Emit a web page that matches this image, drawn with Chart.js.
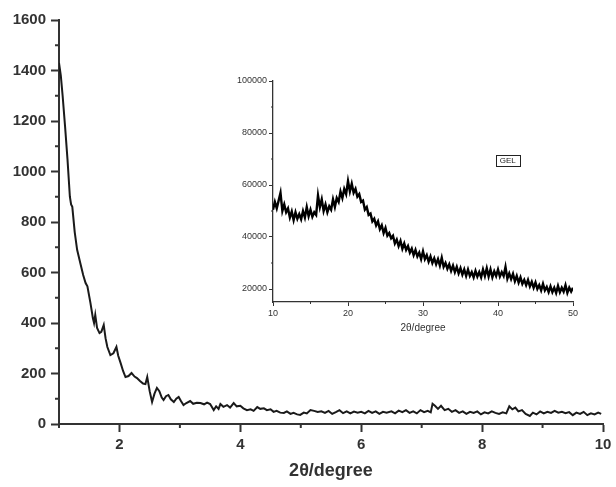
<!DOCTYPE html>
<html>
<head>
<meta charset="utf-8">
<script src="https://cdn.jsdelivr.net/npm/chart.js@4"></script>
<style>
  body { margin: 0; background: #fff; }
  #wrap { position: relative; width: 616px; height: 487px; }
  #mainChart { position: absolute; left: 0; top: 0; }
  #insetChart { position: absolute; left: 228px; top: 72px; }
</style>
</head>
<body>
<div id="wrap">
  <canvas id="mainChart" width="616" height="487"></canvas>
  <canvas id="insetChart" width="360" height="266"></canvas>
</div>
<script>
// main pattern, 2theta 1-10
const mainAngle = [1.0, 1.03, 1.06, 1.1, 1.14, 1.18, 1.2, 1.22, 1.26, 1.3, 1.35, 1.4, 1.44, 1.47, 1.52, 1.56, 1.58, 1.6, 1.63, 1.67,
  1.7, 1.74, 1.77, 1.8, 1.85, 1.9, 1.95, 1.98, 2.02, 2.06, 2.1, 2.15, 2.2, 2.25, 2.29, 2.34, 2.39, 2.43, 2.46, 2.5,
  2.54, 2.58, 2.62, 2.66, 2.7, 2.73, 2.77, 2.81, 2.85, 2.9, 2.94, 2.98, 3.02, 3.06, 3.1, 3.17, 3.22, 3.28, 3.34, 3.4,
  3.45, 3.5, 3.56, 3.6, 3.64, 3.67, 3.72, 3.78, 3.83, 3.89, 3.94, 4.0, 4.05, 4.11, 4.17, 4.22, 4.28, 4.33, 4.39, 4.44,
  4.5, 4.55, 4.6, 4.66, 4.72, 4.77, 4.83, 4.88, 4.94, 4.99, 5.05, 5.1, 5.16, 5.22, 5.28, 5.34, 5.4, 5.46, 5.52, 5.58,
  5.64, 5.7, 5.76, 5.82, 5.88, 5.94, 6.0, 6.06, 6.12, 6.18, 6.24, 6.3, 6.36, 6.42, 6.5, 6.56, 6.62, 6.68, 6.74, 6.8,
  6.86, 6.92, 6.98, 7.04, 7.1, 7.15, 7.18, 7.22, 7.27, 7.32, 7.38, 7.44, 7.5, 7.56, 7.62, 7.68, 7.74, 7.8, 7.86, 7.92,
  7.98, 8.04, 8.1, 8.16, 8.22, 8.28, 8.34, 8.4, 8.45, 8.5, 8.55, 8.6, 8.66, 8.72, 8.79, 8.84, 8.9, 8.96, 9.02, 9.08,
  9.14, 9.2, 9.26, 9.32, 9.38, 9.44, 9.5, 9.56, 9.62, 9.68, 9.74, 9.8, 9.86, 9.92, 9.97];
const mainCounts = [1430, 1380, 1300, 1180, 1050, 900, 870, 860, 760, 690, 640, 590, 558, 545, 480, 420, 400, 432, 380, 360,
  365, 392, 340, 305, 273, 280, 305, 270, 241, 210, 186, 190, 202, 188, 182, 170, 160, 158, 186, 130,
  87, 120, 143, 130, 105, 95, 110, 115, 98, 87, 100, 107, 90, 75, 82, 91, 80, 84, 83, 78,
  85, 79, 55, 70, 60, 79, 68, 75, 65, 83, 70, 72, 62, 55, 58, 52, 67, 60, 62, 55,
  58, 48, 52, 45, 44, 50, 40, 44, 38, 36, 45, 42, 55, 52, 48, 50, 44, 52, 40, 47,
  55, 43, 50, 42, 49, 45, 48, 42, 52, 44, 50, 40, 48, 45, 50, 42, 53, 47, 55, 44,
  50, 42, 55, 47, 52, 46, 80, 72, 60, 72, 55, 60, 48, 55, 44, 50, 40, 48, 44, 50,
  38, 46, 42, 50, 44, 40, 46, 42, 70, 58, 65, 50, 55, 40, 32, 45, 38, 50, 42, 48,
  44, 52, 45, 48, 43, 47, 35, 45, 40, 48, 35, 42, 38, 45, 40];

// inset (GEL), 2theta 10-50 in 0.25 steps
const insetStart = 10;
const insetStep = 0.25;
const insetCounts = [
  50500, 53500, 51000, 54000, 57000, 50000, 52500, 49500, 51000, 47500, 49800, 46500,
  49500, 47000, 48800, 46800, 50000, 47500, 51500, 48000, 50500, 47800, 49500, 48500,
  56000, 51500, 54500, 50000, 52500, 49500, 51800, 50500, 54500, 51500, 55000, 53500,
  57500, 55000, 58500, 56500, 61500, 57500, 60500, 57000, 58500, 55500, 56500, 53500,
  54000, 50500, 51500, 48500, 49000, 46000, 47000, 44500, 46000, 43000, 44500, 41500,
  43500, 40500, 41500, 39500, 40500, 37500, 39000, 36500, 38500, 35500, 37500, 35000,
  36500, 34000, 35500, 33000, 35000, 32500, 34000, 31500, 34500, 31500, 33000, 30500,
  32500, 30000, 31800, 29500, 31500, 29000, 32000, 28500, 30000, 27800, 29500, 27000,
  29000, 26500, 28500, 26000, 28000, 25500, 27500, 25000, 27500, 25000, 26500, 24500,
  27000, 24800, 26500, 24500, 27500, 25000, 28000, 24800, 27500, 24500, 26800, 25000,
  27500, 24800, 26500, 25000, 28500, 24000, 26000, 23800, 25800, 23000, 25000, 22500,
  24500, 22000, 23500, 21500, 23500, 21000, 22800, 20500, 22500, 20000, 21500, 19500,
  22000, 19500, 20800, 18800, 21000, 18800, 20500, 18500, 21200, 18800, 20500, 19000,
  21500, 18500, 20500, 19000, 20500];
const insetLabel = 'GEL';
const xTitle = '2θ/degree';

const textColor = '#333';
const axisColor = '#333';

// shorter ticks for the unlabelled (minor) positions
const minorTicks = {
  id: 'minorTicks',
  afterDraw(chart) {
    const ctx = chart.ctx;
    ctx.save();
    ctx.strokeStyle = axisColor;
    Object.values(chart.scales).forEach(s => {
      const m = s.options.minor;
      if (!m) return;
      ctx.lineWidth = m.width;
      s.ticks.forEach(t => {
        if (t.value % m.major === 0) return;
        const p = s.getPixelForValue(t.value);
        ctx.beginPath();
        if (s.isHorizontal()) {
          ctx.moveTo(p, s.top);
          ctx.lineTo(p, s.top + m.len);
        } else {
          ctx.moveTo(s.right, p);
          ctx.lineTo(s.right - m.len, p);
        }
        ctx.stroke();
      });
    });
    ctx.restore();
  }
};

const legendBox = {
  id: 'legendBox',
  afterDraw(chart) {
    const o = chart.options.plugins.legendBox;
    if (!o) return;
    const ctx = chart.ctx;
    const cx = chart.scales.x.getPixelForValue(o.x);
    const cy = chart.scales.y.getPixelForValue(o.y);
    ctx.save();
    ctx.font = '8px "Liberation Sans", Arial, sans-serif';
    const w = ctx.measureText(o.text).width + 8;
    ctx.strokeStyle = '#222';
    ctx.lineWidth = 1;
    ctx.strokeRect(Math.round(cx - w / 2) + 0.5, Math.round(cy - 6) + 0.5, Math.round(w), 11);
    ctx.fillStyle = '#222';
    ctx.textAlign = 'center';
    ctx.textBaseline = 'middle';
    ctx.fillText(o.text, cx, cy);
    ctx.restore();
  }
};

function tickColorFor(major) {
  return c => (c.tick && c.tick.value % major === 0) ? axisColor : 'rgba(0,0,0,0)';
}

const mainChart = new Chart(document.getElementById('mainChart'), {
  type: 'line',
  data: {
    datasets: [{
      data: mainAngle.map((a, i) => ({ x: a, y: mainCounts[i] })),
      borderColor: '#1a1a1a',
      borderWidth: 2,
      pointRadius: 0,
      tension: 0
    }]
  },
  options: {
    responsive: false,
    devicePixelRatio: 1,
    animation: false,
    layout: { padding: { left: 0, top: 20, right: 13, bottom: 0 } },
    plugins: { legend: { display: false }, tooltip: { enabled: false } },
    scales: {
      x: {
        type: 'linear',
        min: 1, max: 10,
        afterFit: s => { s.height = 63; },
        minor: { major: 2, len: 4, width: 2 },
        border: { color: axisColor, width: 2 },
        grid: { drawOnChartArea: false, tickLength: 8, tickWidth: 2, tickColor: tickColorFor(2) },
        ticks: {
          stepSize: 1, padding: 4, maxRotation: 0, autoSkip: false,
          color: textColor,
          font: { family: '"Liberation Sans", Arial, sans-serif', size: 15, weight: 'bold' },
          callback: v => v % 2 === 0 ? v : ''
        },
        title: {
          display: true, text: xTitle, color: textColor,
          padding: { top: 2, bottom: 5 },
          font: { family: '"Liberation Sans", Arial, sans-serif', size: 18, weight: 'bold' }
        }
      },
      y: {
        min: 0, max: 1600,
        afterFit: s => { s.width = 59; },
        minor: { major: 200, len: 4, width: 2 },
        border: { color: axisColor, width: 2 },
        grid: { drawOnChartArea: false, tickLength: 8, tickWidth: 2, tickColor: tickColorFor(200) },
        ticks: {
          stepSize: 100, padding: 5, autoSkip: false,
          color: textColor,
          font: { family: '"Liberation Sans", Arial, sans-serif', size: 15, weight: 'bold' },
          callback: v => v % 200 === 0 ? v : ''
        }
      }
    }
  },
  plugins: [minorTicks]
});

const insetChart = new Chart(document.getElementById('insetChart'), {
  type: 'line',
  data: {
    datasets: [{
      data: insetCounts.map((c, i) => ({ x: insetStart + i * insetStep, y: c })),
      borderColor: '#000',
      borderWidth: 2.4,
      pointRadius: 0,
      tension: 0
    }]
  },
  options: {
    responsive: false,
    devicePixelRatio: 1,
    animation: false,
    layout: { padding: { left: 0, top: 9, right: 15, bottom: 0 } },
    plugins: {
      legend: { display: false },
      tooltip: { enabled: false },
      legendBox: { text: insetLabel, x: 41.3, y: 69400 }
    },
    scales: {
      x: {
        type: 'linear',
        min: 10, max: 50,
        afterFit: s => { s.height = 36; },
        minor: { major: 10, len: 2, width: 1 },
        border: { color: axisColor, width: 1.3 },
        grid: { drawOnChartArea: false, tickLength: 4, tickWidth: 1, tickColor: tickColorFor(10) },
        ticks: {
          stepSize: 5, padding: 2, maxRotation: 0, autoSkip: false,
          color: textColor,
          font: { family: '"Liberation Sans", Arial, sans-serif', size: 9 },
          callback: v => v % 10 === 0 ? v : ''
        },
        title: {
          display: true, text: xTitle, color: textColor,
          padding: { top: 1, bottom: 4 },
          font: { family: '"Liberation Sans", Arial, sans-serif', size: 10 }
        }
      },
      y: {
        min: 15000, max: 100000,
        afterFit: s => { s.width = 45; },
        minor: { major: 20000, len: 2, width: 1 },
        border: { color: axisColor, width: 1.3 },
        grid: { drawOnChartArea: false, tickLength: 4, tickWidth: 1, tickColor: tickColorFor(20000) },
        ticks: {
          padding: 2, autoSkip: false,
          color: textColor,
          font: { family: '"Liberation Sans", Arial, sans-serif', size: 9 },
          callback: v => v % 20000 === 0 ? v : ''
        },
        afterBuildTicks: s => {
          const vals = [20000, 30000, 40000, 50000, 60000, 70000, 80000, 90000, 100000];
          s.ticks = vals.map(v => ({ value: v }));
        }
      }
    }
  },
  plugins: [minorTicks, legendBox]
});
</script>
</body>
</html>
